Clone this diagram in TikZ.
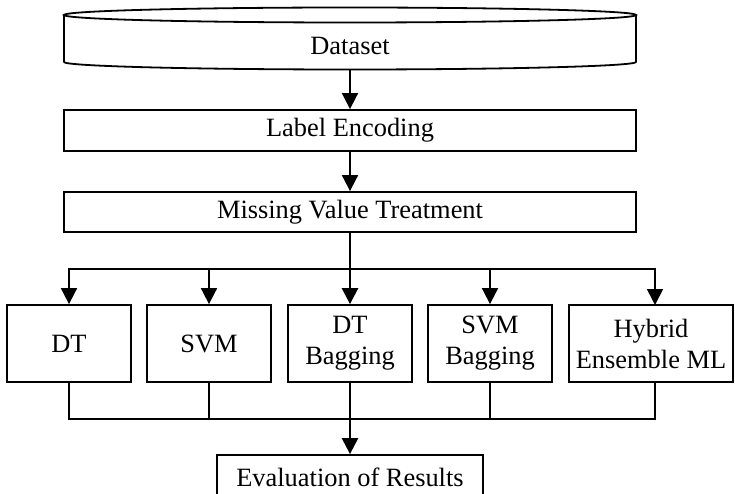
\documentclass[tikz,border=0pt]{standalone}
\usepackage{fontspec}
\setmainfont{Liberation Serif}
\usetikzlibrary{arrows.meta}
\begin{document}
\begin{tikzpicture}[x=1pt,y=-1pt,
  line/.style={draw=black,line width=1.8pt},
  boxnode/.style={line,rectangle,inner sep=0pt,align=center,font=\fontsize{26.4}{31}\selectfont},
  arr/.style={line,-{Triangle[length=16pt,width=16pt]}},
  lbl/.style={inner sep=0pt,align=center,font=\fontsize{26.4}{31}\selectfont}]
\useasboundingbox (0,0) rectangle (735,494);
% cylinder
\draw[line,line join=round] (64,15) -- (64,62) arc[start angle=180,end angle=0,x radius=286,y radius=7.5] -- (636,15);
\draw[line] (350,15) ellipse[x radius=286,y radius=7.5];
\node[lbl,minimum width=572pt,minimum height=48pt] (ds) at (350,46) {Dataset};
\node[boxnode,minimum width=572pt,minimum height=41pt] (le) at (350,130.5) {Label Encoding};
\node[boxnode,minimum width=572pt,minimum height=40pt] (mv) at (350,212) {Missing Value Treatment};
\node[boxnode,minimum width=124pt,minimum height=77pt] (dt) at (69,343.5) {DT};
\node[boxnode,minimum width=124pt,minimum height=77pt] (sv) at (209,343.5) {SVM};
\node[boxnode,minimum width=124pt,minimum height=77pt] (dtb) at (350,343.5) {DT\\Bagging};
\node[boxnode,minimum width=124pt,minimum height=77pt] (svb) at (490,343.5) {SVM\\Bagging};
\node[boxnode,minimum width=164pt,minimum height=77pt] (hy) at (651,343.5) {Hybrid\\Ensemble ML};
\node[boxnode,minimum width=266pt,minimum height=45pt] (ev) at (350,477.5) {Evaluation of Results};
\coordinate (bus) at (350,269);
\coordinate (bot) at (350,419);
\coordinate (hyin) at (655,305);
\draw[arr] (ds.south) -- (le.north);
\draw[arr] (le.south) -- (mv.north);
\draw[arr,line width=2.6pt] (mv.south) -- (dtb.north);
\draw[arr] (bus) -| (dt.north);
\draw[arr] (bus) -| (sv.north);
\draw[arr] (bus) -| (svb.north);
\draw[arr] (bus) -| (hyin);
\draw[line] (dt.south) |- (bot);
\draw[line] (sv.south) |- (bot);
\draw[line] (svb.south) |- (bot);
\draw[line] (hy.south -| hyin) |- (bot);
\draw[arr,line width=2.2pt] (dtb.south) -- (ev.north);
\end{tikzpicture}
\end{document}
